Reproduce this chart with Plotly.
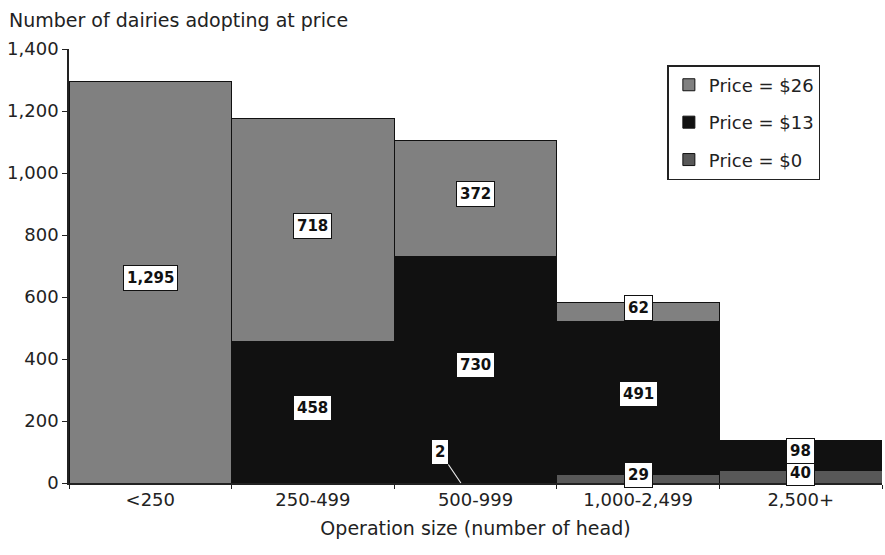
import plotly.graph_objects as go

# Dairies adopting at each price, by operation size
categories = ["<250", "250-499", "500-999", "1,000-2,499", "2,500+"]
price_0 = [0, 0, 2, 29, 40]
price_13 = [0, 458, 730, 491, 98]
price_26 = [1295, 718, 372, 62, 0]

# (name, values, fill, legend position) — stacked bottom to top
series = [
    ("Price = $0", price_0, "#585858", 3),
    ("Price = $13", price_13, "#111111", 2),
    ("Price = $26", price_26, "#808080", 1),
]

FONT = "DejaVu Sans, Verdana, sans-serif"
TEXT = "#222222"

fig = go.Figure()
for name, vals, color, rank in series:
    fig.add_trace(go.Bar(
        x=categories, y=vals, name=name, width=1,
        legendgroup=name, legendrank=rank,
        marker=dict(color=color, line=dict(color="#111111", width=1)),
    ))

# White boxed value labels centred on each segment
label_style = dict(
    bgcolor="white", bordercolor="#111111", borderwidth=1, borderpad=3,
    font=dict(family=FONT, size=15, color="#111111"),
)
annotations = []
for idx, cat in enumerate(categories):
    base = 0
    for name, vals, color, rank in series:
        v = vals[idx]
        if v == 0:
            continue
        if v < 10:
            # tiny segment: label sits to the upper left with a leader line
            annotations.append(dict(
                x=idx - 0.09, y=base, xref="x", yref="y",
                text="<b>%d</b>" % v, showarrow=True, arrowhead=0,
                arrowwidth=1.2, arrowcolor="#e8e8e8", ax=-21, ay=-31,
                **label_style,
            ))
        else:
            annotations.append(dict(
                x=cat, y=base + v / 2, xref="x", yref="y",
                text="<b>{:,}</b>".format(v), showarrow=False, yshift=4,
                **label_style,
            ))
        base += v

annotations.append(dict(
    x=0, y=1, xref="paper", yref="paper", xanchor="left", yanchor="bottom",
    xshift=-62, yshift=16, showarrow=False,
    text="Number of dairies adopting at price",
    font=dict(family=FONT, size=19, color=TEXT),
))

fig.update_layout(
    barmode="stack",
    width=885, height=555,
    margin=dict(l=69, r=3, t=49, b=72),
    paper_bgcolor="white", plot_bgcolor="white",
    font=dict(family=FONT, size=18, color=TEXT),
    showlegend=True,
    legend=dict(
        x=0.736, y=0.963, xanchor="left", yanchor="top",
        traceorder="grouped", bordercolor=TEXT, borderwidth=1.5,
        bgcolor="white", font=dict(family=FONT, size=18, color=TEXT),
        tracegroupgap=11, entrywidth=134,
    ),
    annotations=annotations,
    xaxis=dict(
        type="category", range=[-0.5, 4.5],
        showline=True, linecolor=TEXT, linewidth=1.5,
        ticks="outside", tickson="boundaries", ticklen=4, tickcolor=TEXT,
        showgrid=False, tickfont=dict(size=18),
        title=dict(text="Operation size (number of head)",
                   font=dict(family=FONT, size=19, color=TEXT), standoff=12),
    ),
    yaxis=dict(
        range=[0, 1400], dtick=200, tickformat=",",
        showline=True, linecolor=TEXT, linewidth=1.5,
        ticks="outside", ticklen=5, tickcolor=TEXT, tickfont=dict(size=18),
        showgrid=False, zeroline=False,
    ),
)

fig.write_html("out.html")
